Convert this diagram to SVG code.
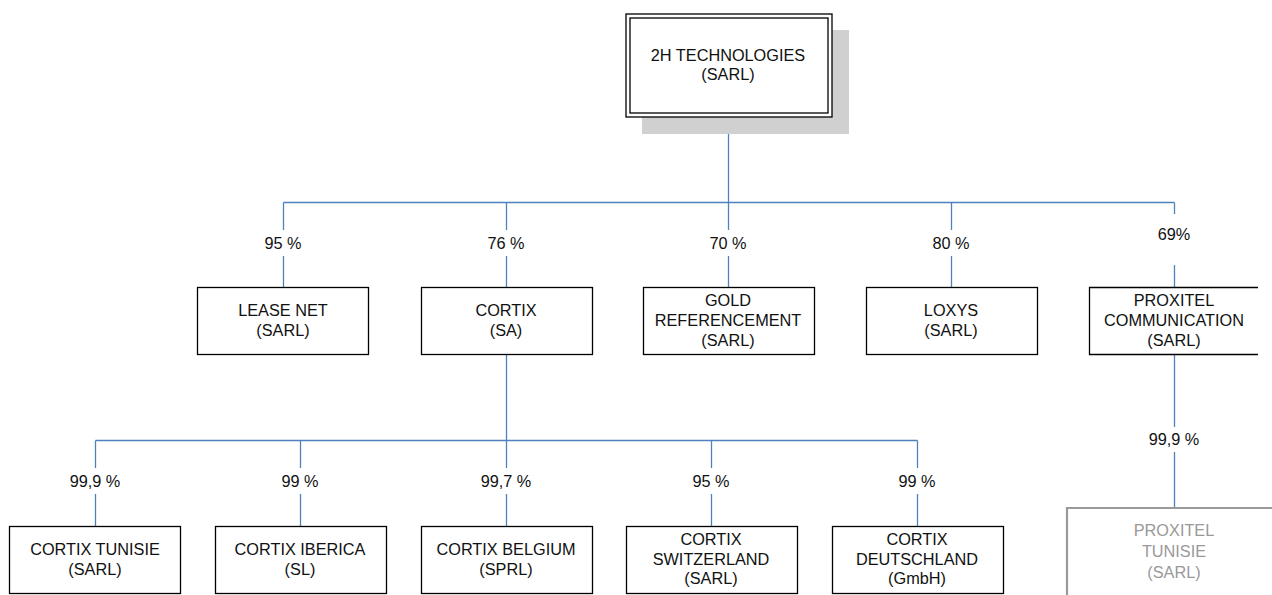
<svg xmlns="http://www.w3.org/2000/svg" width="1272" height="595" viewBox="0 0 1272 595">
<style>
text{font-family:"Liberation Sans",Arial,sans-serif;font-size:16.3px;fill:#111;text-anchor:middle}
.box{fill:#fff;stroke:#000;stroke-width:1.3}
.gray{fill:#fff;stroke:#999;stroke-width:2.2}
.gt{fill:#999}
.conn line{stroke:#4F81BD;stroke-width:1.3}
</style>
<rect width="1272" height="595" fill="#fff"/>
<g class="conn">
<line x1="728.5" y1="117" x2="728.5" y2="202.5"/>
<line x1="283.5" y1="202.5" x2="1174.5" y2="202.5"/>
<line x1="283.5" y1="202.5" x2="283.5" y2="230"/><line x1="283.5" y1="256" x2="283.5" y2="287"/>
<line x1="506.5" y1="202.5" x2="506.5" y2="230"/><line x1="506.5" y1="256" x2="506.5" y2="287"/>
<line x1="728.5" y1="202.5" x2="728.5" y2="230"/><line x1="728.5" y1="256" x2="728.5" y2="287"/>
<line x1="951.5" y1="202.5" x2="951.5" y2="230"/><line x1="951.5" y1="256" x2="951.5" y2="287"/>
<line x1="1174.5" y1="202.5" x2="1174.5" y2="214"/><line x1="1174.5" y1="265" x2="1174.5" y2="287"/>
<line x1="506.5" y1="355" x2="506.5" y2="440.5"/>
<line x1="95.5" y1="440.5" x2="917.5" y2="440.5"/>
<line x1="95.5" y1="440.5" x2="95.5" y2="468"/><line x1="95.5" y1="494" x2="95.5" y2="526"/>
<line x1="300.5" y1="440.5" x2="300.5" y2="468"/><line x1="300.5" y1="494" x2="300.5" y2="526"/>
<line x1="506.5" y1="440.5" x2="506.5" y2="468"/><line x1="506.5" y1="494" x2="506.5" y2="526"/>
<line x1="711.5" y1="440.5" x2="711.5" y2="468"/><line x1="711.5" y1="494" x2="711.5" y2="526"/>
<line x1="917.5" y1="440.5" x2="917.5" y2="468"/><line x1="917.5" y1="494" x2="917.5" y2="526"/>
<line x1="1174.5" y1="355" x2="1174.5" y2="427"/><line x1="1174.5" y1="452" x2="1174.5" y2="507"/>
<text x="283" y="249">95 %</text>
<text x="506" y="249">76 %</text>
<text x="728" y="249">70 %</text>
<text x="951" y="249">80 %</text>
<text x="1174" y="240">69%</text>
<text x="95" y="487">99,9 %</text>
<text x="300" y="487">99 %</text>
<text x="506" y="487">99,7 %</text>
<text x="711" y="487">95 %</text>
<text x="917" y="487">99 %</text>
<text x="1174" y="445">99,9 %</text>
</g>
<g id="n-2h">
<rect x="642" y="30" width="207" height="104" fill="#d0d0d0"/>
<rect x="626" y="14" width="206" height="103" class="box"/>
<rect x="630" y="18" width="198" height="95" class="box"/>
<text x="728" y="61">2H TECHNOLOGIES</text>
<text x="728" y="80">(SARL)</text>
</g>
<g id="n-leasenet"><rect x="197.5" y="287.5" width="171" height="67" class="box"/><text x="283" y="316">LEASE NET</text><text x="283" y="336">(SARL)</text></g>
<g id="n-cortix"><rect x="421.5" y="287.5" width="171" height="67" class="box"/><text x="506" y="316">CORTIX</text><text x="506" y="336">(SA)</text></g>
<g id="n-gold"><rect x="643.5" y="287.5" width="171" height="67" class="box"/><text x="728" y="306">GOLD</text><text x="728" y="326">REFERENCEMENT</text><text x="728" y="346">(SARL)</text></g>
<g id="n-loxys"><rect x="866.5" y="287.5" width="171" height="67" class="box"/><text x="951" y="316">LOXYS</text><text x="951" y="336">(SARL)</text></g>
<g id="n-proxitel"><path d="M1258 287.5H1089.5V354.5H1258" class="box"/><text x="1174" y="306">PROXITEL</text><text x="1174" y="326">COMMUNICATION</text><text x="1174" y="346">(SARL)</text></g>
<g id="n-tunisie"><rect x="9.5" y="526.5" width="171" height="67" class="box"/><text x="95" y="555">CORTIX TUNISIE</text><text x="95" y="575">(SARL)</text></g>
<g id="n-iberica"><rect x="215.5" y="526.5" width="171" height="67" class="box"/><text x="300" y="555">CORTIX IBERICA</text><text x="300" y="575">(SL)</text></g>
<g id="n-belgium"><rect x="421.5" y="526.5" width="171" height="67" class="box"/><text x="506" y="555">CORTIX BELGIUM</text><text x="506" y="575">(SPRL)</text></g>
<g id="n-switz"><rect x="626.5" y="526.5" width="171" height="67" class="box"/><text x="711" y="545">CORTIX</text><text x="711" y="565">SWITZERLAND</text><text x="711" y="584">(SARL)</text></g>
<g id="n-deutsch"><rect x="832.5" y="526.5" width="171" height="67" class="box"/><text x="917" y="545">CORTIX</text><text x="917" y="565">DEUTSCHLAND</text><text x="917" y="584">(GmbH)</text></g>
<g id="n-proxtun"><path d="M1067 596V508H1272" class="gray"/><text x="1174" y="536" class="gt">PROXITEL</text><text x="1174" y="557" class="gt">TUNISIE</text><text x="1174" y="578" class="gt">(SARL)</text></g>
</svg>
